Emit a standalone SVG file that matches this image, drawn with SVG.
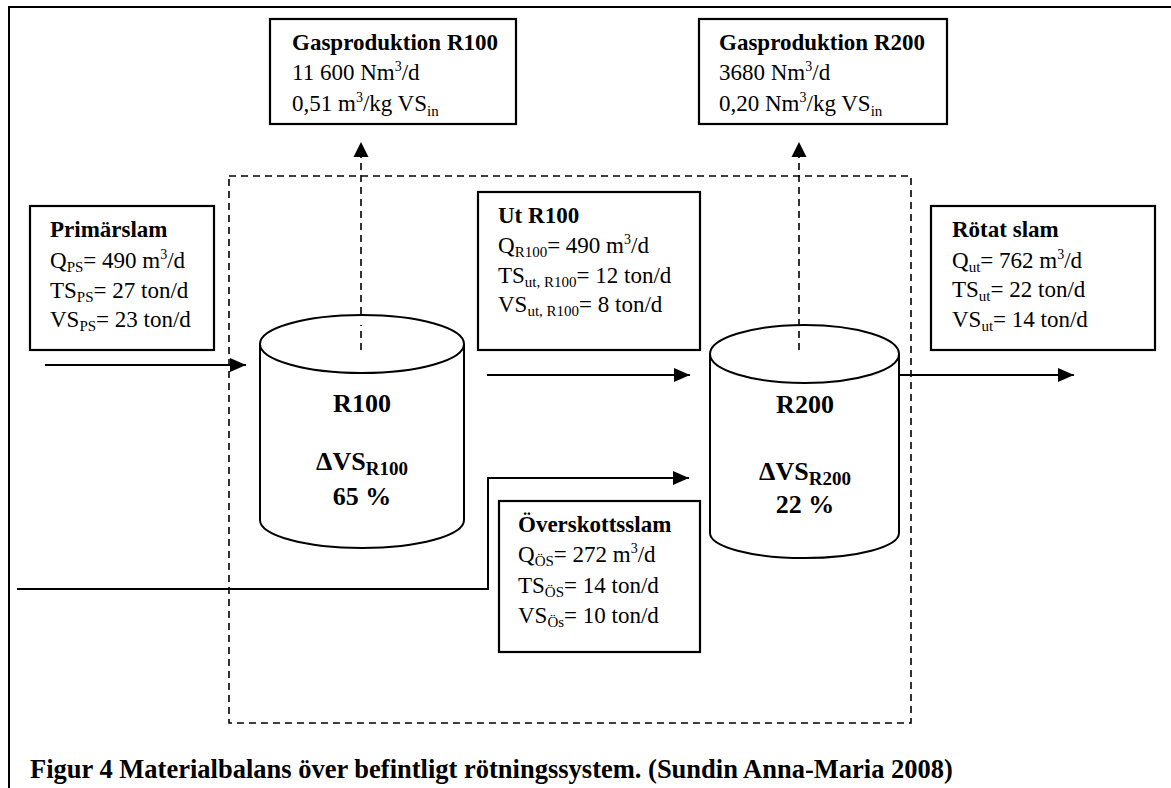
<svg xmlns="http://www.w3.org/2000/svg" width="1171" height="788" viewBox="0 0 1171 788">
  <style>
    text { font-family: "Liberation Serif", "Times New Roman", serif; fill: #000; }
    .t { font-size: 23px; }
    .b { font-weight: bold; }
    .big { font-size: 26px; font-weight: bold; }
    .cap { font-size: 26.5px; font-weight: bold; }
    .box { fill: #fff; stroke: #000; stroke-width: 2.2; }
    .flow { fill: none; stroke: #000; stroke-width: 2; }
    .dash { fill: none; stroke: #000; stroke-width: 1.6; stroke-dasharray: 7 5; }
    .tank { fill: #fff; stroke: #000; stroke-width: 2; }
  </style>
  <defs>
    <marker id="arrow" viewBox="0 0 16 14" refX="16" refY="7" markerWidth="16" markerHeight="14" markerUnits="userSpaceOnUse" orient="auto">
      <path d="M0,0 L16,7 L0,14 Z" fill="#000"/>
    </marker>
  </defs>

  <rect width="1171" height="788" fill="#fff"/>

  <!-- outer frame -->
  <path d="M9,788 V7 H1171" fill="none" stroke="#000" stroke-width="2"/>

  <!-- system boundary -->
  <rect id="boundary" x="229" y="176" width="682" height="547" class="dash"/>

  <!-- connectors -->
  <g id="connectors">
    <line x1="45" y1="365" x2="246" y2="365" class="flow" marker-end="url(#arrow)"/>
    <line x1="487" y1="375" x2="690" y2="375" class="flow" marker-end="url(#arrow)"/>
    <line x1="898" y1="375" x2="1074" y2="375" class="flow" marker-end="url(#arrow)"/>
    <path d="M17,589 H488 V478 H689" class="flow" marker-end="url(#arrow)"/>
    <line x1="361" y1="350" x2="361" y2="157" class="dash"/>
    <path d="M353.5,157 L361,142 L368.5,157 Z" fill="#000"/>
    <line x1="799" y1="350" x2="799" y2="157" class="dash"/>
    <path d="M791.5,157 L799,142 L806.5,157 Z" fill="#000"/>
  </g>

  <!-- digester R100 -->
  <g id="r100">
    <path d="M260,344 V520 A102,28 0 0 0 464,520 V344" class="tank"/>
    <ellipse cx="362" cy="344" rx="102" ry="29" class="tank"/>
    <line x1="361" y1="350" x2="361" y2="325" class="dash"/>
    <text x="362" y="412" class="big" text-anchor="middle">R100</text>
    <text x="362" y="470" class="big" text-anchor="middle">ΔVS<tspan font-size="19" dy="5">R100</tspan></text>
    <text x="362" y="505" class="big" text-anchor="middle">65 %</text>
  </g>

  <!-- digester R200 -->
  <g id="r200">
    <path d="M710,354 V533 A94.5,25 0 0 0 899,533 V354" class="tank"/>
    <ellipse cx="804.5" cy="354" rx="94.5" ry="29" class="tank"/>
    <line x1="799" y1="350" x2="799" y2="327" class="dash"/>
    <text x="805" y="413" class="big" text-anchor="middle">R200</text>
    <text x="805" y="480" class="big" text-anchor="middle">ΔVS<tspan font-size="19" dy="5">R200</tspan></text>
    <text x="805" y="513" class="big" text-anchor="middle">22 %</text>
  </g>

  <!-- gas production R100 -->
  <g id="gas-r100">
    <rect x="270" y="19" width="246" height="105" class="box"/>
    <text x="292" y="50" class="t b">Gasproduktion R100</text>
    <text x="292" y="80" class="t">11 600 Nm<tspan font-size="14" dy="-9">3</tspan><tspan dy="9">/d</tspan></text>
    <text x="292" y="111" class="t">0,51 m<tspan font-size="14" dy="-9">3</tspan><tspan dy="9">/kg VS</tspan><tspan font-size="15" dy="5">in</tspan></text>
  </g>

  <!-- gas production R200 -->
  <g id="gas-r200">
    <rect x="699" y="19" width="248" height="105" class="box"/>
    <text x="719" y="50" class="t b">Gasproduktion R200</text>
    <text x="719" y="80" class="t">3680 Nm<tspan font-size="14" dy="-9">3</tspan><tspan dy="9">/d</tspan></text>
    <text x="719" y="111" class="t">0,20 Nm<tspan font-size="14" dy="-9">3</tspan><tspan dy="9">/kg VS</tspan><tspan font-size="15" dy="5">in</tspan></text>
  </g>

  <!-- primary sludge -->
  <g id="primarslam">
    <rect x="30" y="206" width="184" height="144" class="box"/>
    <text x="50" y="237" class="t b">Primärslam</text>
    <text x="50" y="268" class="t">Q<tspan font-size="15" dy="4">PS</tspan><tspan dy="-4">= 490 m</tspan><tspan font-size="14" dy="-9">3</tspan><tspan dy="9">/d</tspan></text>
    <text x="50" y="298" class="t">TS<tspan font-size="15" dy="4">PS</tspan><tspan dy="-4">= 27 ton/d</tspan></text>
    <text x="50" y="327" class="t">VS<tspan font-size="15" dy="4">PS</tspan><tspan dy="-4">= 23 ton/d</tspan></text>
  </g>

  <!-- outflow R100 -->
  <g id="ut-r100">
    <rect x="478" y="192" width="222" height="158" class="box"/>
    <text x="498" y="223" class="t b">Ut R100</text>
    <text x="498" y="253" class="t">Q<tspan font-size="15" dy="4">R100</tspan><tspan dy="-4">= 490 m</tspan><tspan font-size="14" dy="-9">3</tspan><tspan dy="9">/d</tspan></text>
    <text x="498" y="283" class="t">TS<tspan font-size="15" dy="4">ut, R100</tspan><tspan dy="-4">= 12 ton/d</tspan></text>
    <text x="498" y="312" class="t">VS<tspan font-size="15" dy="4">ut, R100</tspan><tspan dy="-4">= 8 ton/d</tspan></text>
  </g>

  <!-- digested sludge -->
  <g id="rotat-slam">
    <rect x="931" y="206" width="224" height="144" class="box"/>
    <text x="952" y="237" class="t b">Rötat slam</text>
    <text x="952" y="268" class="t">Q<tspan font-size="15" dy="4">ut</tspan><tspan dy="-4">= 762 m</tspan><tspan font-size="14" dy="-9">3</tspan><tspan dy="9">/d</tspan></text>
    <text x="952" y="297" class="t">TS<tspan font-size="15" dy="4">ut</tspan><tspan dy="-4">= 22 ton/d</tspan></text>
    <text x="952" y="327" class="t">VS<tspan font-size="15" dy="4">ut</tspan><tspan dy="-4">= 14 ton/d</tspan></text>
  </g>

  <!-- excess sludge -->
  <g id="overskottsslam">
    <rect x="499" y="501" width="201" height="151" class="box"/>
    <text x="518" y="532" class="t b">Överskottsslam</text>
    <text x="518" y="562" class="t">Q<tspan font-size="15" dy="4">ÖS</tspan><tspan dy="-4">= 272 m</tspan><tspan font-size="14" dy="-9">3</tspan><tspan dy="9">/d</tspan></text>
    <text x="518" y="593" class="t">TS<tspan font-size="15" dy="4">ÖS</tspan><tspan dy="-4">= 14 ton/d</tspan></text>
    <text x="518" y="623" class="t">VS<tspan font-size="15" dy="4">Ös</tspan><tspan dy="-4">= 10 ton/d</tspan></text>
  </g>

  <!-- caption -->
  <text id="caption" x="30" y="778" class="cap">Figur 4 Materialbalans över befintligt rötningssystem. (Sundin Anna-Maria 2008)</text>
</svg>
